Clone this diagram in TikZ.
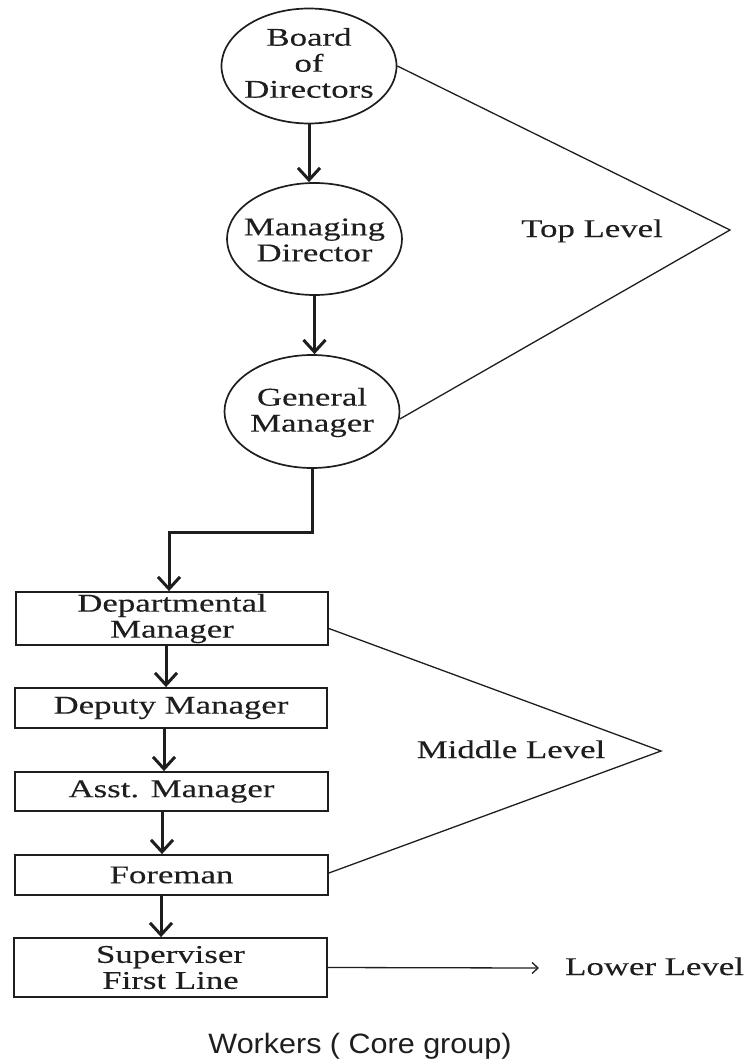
\documentclass[tikz,border=0pt]{standalone}
\usepackage{fontspec}
\setmainfont{Liberation Serif}[FakeStretch=1.365,FakeBold=0.2]
\newfontfamily\wfont{Liberation Sans}[FakeStretch=1.09]
\usetikzlibrary{shapes.geometric,arrows.meta}
\definecolor{ink}{HTML}{1E1E1E}
\begin{document}
\begin{tikzpicture}[x=1pt,y=-1pt,
  lbl/.style={font=\fontsize{25.5pt}{26pt}\selectfont, align=center, inner sep=0pt, text=ink},
  oval/.style={draw=ink, ellipse, line width=1.7pt, inner sep=0pt, minimum width=175pt, minimum height=115pt},
  box/.style={draw=ink, rectangle, line width=1.8pt, inner sep=0pt, minimum width=313pt, lbl},
  arr/.style={draw=ink, line width=3pt, -{Straight Barb[length=12pt,width=22pt]}},
  thinarr/.style={draw=ink, line width=1.3pt, -{Straight Barb[length=6pt,width=11pt]}},
  tri/.style={draw=ink, line width=1.3pt},
]
\useasboundingbox (0,0) rectangle (747,1059);

% top level ellipses
\node[oval] (bod) at (309,66) {};
\node[lbl] (bodt) at (309,63) {Board\\of\\Directors};
\node[oval, minimum height=112pt] (md) at (314.5,239) {};
\node[lbl] (mdt) at (314.5,240) {Managing\\Director};
\node[oval, minimum height=113pt] (gm) at (312,411.5) {};
\node[lbl] (gmt) at (312,412.5) {General\\Manager};

% boxes
\node[box, minimum width=312pt, minimum height=53pt] (dm) at (172,618.5) {Departmental\\Manager};
\node[box, minimum width=312pt, minimum height=40pt] (dep) at (171,708) {Deputy Manager};
\node[box, minimum width=313pt, minimum height=39pt] (asst) at (171.5,791.5) {Asst. Manager};
\node[box, minimum width=313pt, minimum height=40pt] (fore) at (171.5,875) {Foreman};
\node[box, minimum width=313pt, minimum height=59pt] (sup) at (170.5,967.5) {Superviser\\First Line};

% vertical arrows
\draw[arr] (bod.south) -- (bod.south |- md.north);
\draw[arr] (md.south) -- (md.south |- gm.north);
\coordinate (bend) at (169,532);
\draw[arr, line join=miter] (gm.south) |- (bend) -- ([xshift=-3pt]dm.north);
\draw[arr] ([xshift=-6pt]dm.south) -- ([xshift=-5pt]dep.north);
\draw[arr] ([xshift=-7pt]dep.south) -- ([xshift=-7.5pt]asst.north);
\draw[arr] ([xshift=-9.5pt]asst.south) -- ([xshift=-9.5pt]fore.north);
\draw[arr] ([xshift=-10.5pt]fore.south) -- ([xshift=-9.5pt]sup.north);

% top level bracket
\coordinate (topapex) at (730,230);
\draw[tri] (bod.east) -- (topapex) -- (gm.-5);
\node[lbl, anchor=base] (toplbl) at (592,237) {Top Level};

% middle level bracket
\coordinate (midapex) at (661,751);
\draw[tri] ([yshift=-10pt]dm.east) -- (midapex) -- ([yshift=2pt]fore.east);
\node[lbl, anchor=base] (midlbl) at (511,758) {Middle Level};

% lower level
\coordinate (lowend) at (539,968);
\draw[thinarr] (sup.east) -- (lowend);
\node[lbl, anchor=base west] (lowlbl) at (565,975) {Lower Level};

% workers
\node[inner sep=0pt, anchor=base, text=ink, font=\wfont\fontsize{28pt}{30pt}\selectfont] (workers) at (360,1053) {Workers ( Core group)};
\end{tikzpicture}
\end{document}
